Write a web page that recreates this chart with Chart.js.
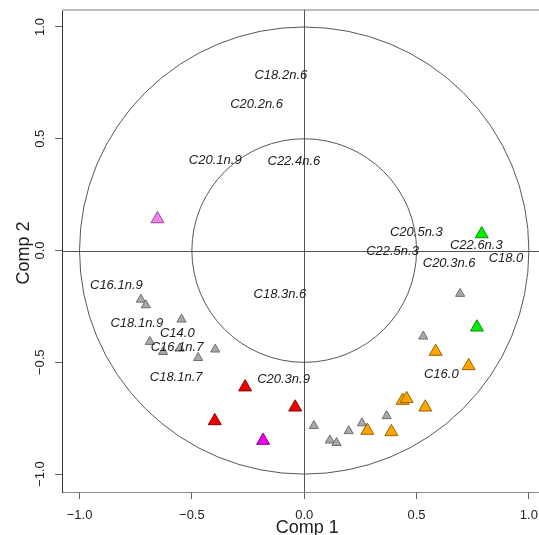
<!DOCTYPE html>
<html>
<head>
<meta charset="utf-8">
<script src="https://cdn.jsdelivr.net/npm/chart.js@4"></script>
<style>
  html, body { margin: 0; padding: 0; background: #fff; }
  canvas { display: block; }
</style>
</head>
<body>
<canvas id="myChart" width="539" height="535"></canvas>
<script>
// variable names and where they sit on the correlation circle
var labelNames = ['C18.2n.6', 'C20.2n.6', 'C20.1n.9', 'C22.4n.6', 'C20.5n.3', 'C22.5n.3',
                  'C22.6n.3', 'C20.3n.6', 'C18.0', 'C18.3n.6', 'C20.3n.9', 'C16.0',
                  'C16.1n.9', 'C18.1n.9', 'C14.0', 'C16.1n.7', 'C18.1n.7'];
var labelX = [-0.104, -0.212, -0.396, -0.046, 0.499, 0.393, 0.766, 0.645, 0.898, -0.108, -0.092, 0.610,
              -0.836, -0.745, -0.565, -0.566, -0.570];
var labelY = [0.785, 0.654, 0.402, 0.397, 0.082, -0.004, 0.022, -0.056, -0.037, -0.195, -0.578, -0.556,
              -0.156, -0.325, -0.369, -0.432, -0.568];

// individuals (triangles) by group
var grayX = [0.694, 0.530, 0.367, 0.257, 0.198, 0.043, 0.114, 0.144, -0.727, -0.705, -0.546, -0.687, -0.628, -0.554, -0.472, -0.396];
var grayY = [-0.193, -0.384, -0.740, -0.772, -0.807, -0.784, -0.849, -0.860, -0.219, -0.244, -0.308, -0.408, -0.453, -0.438, -0.480, -0.442];
var orangeX = [0.585, 0.732, 0.438, 0.456, 0.539, 0.281, 0.388];
var orangeY = [-0.452, -0.516, -0.671, -0.663, -0.701, -0.805, -0.811];
var redX = [-0.263, -0.398, -0.040];
var redY = [-0.611, -0.762, -0.701];
var greenX = [0.790, 0.769];
var greenY = [0.074, -0.343];
var magentaX = [-0.183];
var magentaY = [-0.850];
var violetX = [-0.653];
var violetY = [0.141];

var tickValues = [-1.0, -0.5, 0.0, 0.5, 1.0];
var circleRadii = [1.0, 0.5];

function pts(xs, ys) {
    var out = [];
    for (var i = 0; i < xs.length; i++) out.push({x: xs[i], y: ys[i]});
    return out;
}

function fmt(v) {
    var s = Math.abs(v).toFixed(1);
    return v < 0 ? '\u2212' + s : s;
}

function ds(xs, ys, fill, border, r) {
    return {
        data: pts(xs, ys),
        pointStyle: 'triangle',
        pointRadius: r,
        pointHoverRadius: r,
        backgroundColor: fill,
        borderColor: border,
        borderWidth: 1
    };
}

var circlePlugin = {
    id: 'circles',
    beforeDatasetsDraw: function(chart) {
        var ctx = chart.ctx, xs = chart.scales.x, ys = chart.scales.y, a = chart.chartArea;
        ctx.save();
        // top frame line
        ctx.strokeStyle = '#bdbdbd';
        ctx.lineWidth = 2;
        ctx.beginPath();
        ctx.moveTo(a.left, a.top);
        ctx.lineTo(a.right, a.top);
        ctx.stroke();

        ctx.strokeStyle = '#555';
        ctx.lineWidth = 1;
        var x0 = xs.getPixelForValue(0), y0 = ys.getPixelForValue(0);
        ctx.beginPath();
        ctx.moveTo(Math.round(x0) + 0.5, a.top);
        ctx.lineTo(Math.round(x0) + 0.5, a.bottom);
        ctx.moveTo(a.left, Math.round(y0) + 0.5);
        ctx.lineTo(a.right, Math.round(y0) + 0.5);
        ctx.stroke();

        ctx.strokeStyle = '#444';
        ctx.lineWidth = 0.9;
        circleRadii.forEach(function(r) {
            var rx = xs.getPixelForValue(r) - x0;
            var ry = y0 - ys.getPixelForValue(r);
            ctx.beginPath();
            ctx.ellipse(x0, y0, rx, ry, 0, 0, Math.PI * 2);
            ctx.stroke();
        });
        ctx.restore();
    },
    afterDatasetsDraw: function(chart) {
        var ctx = chart.ctx, xs = chart.scales.x, ys = chart.scales.y;
        ctx.save();
        ctx.fillStyle = '#222';
        ctx.font = 'italic 13px "Liberation Sans", Arial, sans-serif';
        ctx.textAlign = 'center';
        ctx.textBaseline = 'middle';
        for (var i = 0; i < labelNames.length; i++) {
            ctx.fillText(labelNames[i], xs.getPixelForValue(labelX[i]), ys.getPixelForValue(labelY[i]));
        }
        ctx.restore();
    },
    afterDraw: function(chart) {
        var ctx = chart.ctx, ys = chart.scales.y, xs = chart.scales.x;
        ctx.save();
        ctx.fillStyle = '#222';
        ctx.textAlign = 'center';
        ctx.textBaseline = 'alphabetic';
        // rotated y tick labels, R style
        ctx.font = '13px "Liberation Sans", Arial, sans-serif';
        tickValues.forEach(function(v) {
            ctx.save();
            ctx.translate(43.5, ys.getPixelForValue(v));
            ctx.rotate(-Math.PI / 2);
            ctx.fillText(fmt(v), 0, 0);
            ctx.restore();
        });
        // axis titles
        ctx.font = '18px "Liberation Sans", Arial, sans-serif';
        ctx.fillText('Comp 1', xs.getPixelForValue(0) + 3, 533);
        ctx.translate(29, 253);
        ctx.rotate(-Math.PI / 2);
        ctx.fillText('Comp 2', 0, 0);
        ctx.restore();
    }
};

var ctx = document.getElementById('myChart').getContext('2d');
var chart = new Chart(ctx, {
    type: 'scatter',
    data: {
        datasets: [
            ds(grayX, grayY, '#a9a9a9', '#6e6e6e', 5.3),
            ds(orangeX, orangeY, '#ffa500', '#9a6400', 7.5),
            ds(redX, redY, '#ee0000', '#8e0000', 7.5),
            ds(greenX, greenY, '#00ee00', '#108a10', 7.5),
            ds(magentaX, magentaY, '#ee00ee', '#8e008e', 7.5),
            ds(violetX, violetY, '#ee82ee', '#9a509a', 7.5)
        ]
    },
    options: {
        responsive: false,
        animation: false,
        layout: { autoPadding: false, padding: { top: 10, right: 0, bottom: 0, left: 0 } },
        plugins: { legend: { display: false }, tooltip: { enabled: false } },
        scales: {
            x: {
                type: 'linear',
                min: -1.078,
                max: 1.045,
                afterFit: function(s) { s.height = 43; s.paddingLeft = 0; s.paddingRight = 0; },
                afterBuildTicks: function(s) { s.ticks = tickValues.map(function(v) { return {value: v}; }); },
                grid: { drawOnChartArea: false, tickLength: 7, tickColor: '#666' },
                border: { color: '#888' },
                ticks: {
                    padding: 9,
                    color: '#222',
                    font: { family: '"Liberation Sans", Arial, sans-serif', size: 13 },
                    callback: function(v) { return fmt(v); }
                }
            },
            y: {
                type: 'linear',
                min: -1.080,
                max: 1.076,
                afterFit: function(s) { s.width = 62; s.paddingTop = 0; s.paddingBottom = 0; },
                afterBuildTicks: function(s) { s.ticks = tickValues.map(function(v) { return {value: v}; }); },
                grid: { drawOnChartArea: false, tickLength: 7, tickColor: '#666' },
                border: { color: '#333' },
                ticks: { display: false }
            }
        }
    },
    plugins: [circlePlugin]
});
</script>
</body>
</html>
